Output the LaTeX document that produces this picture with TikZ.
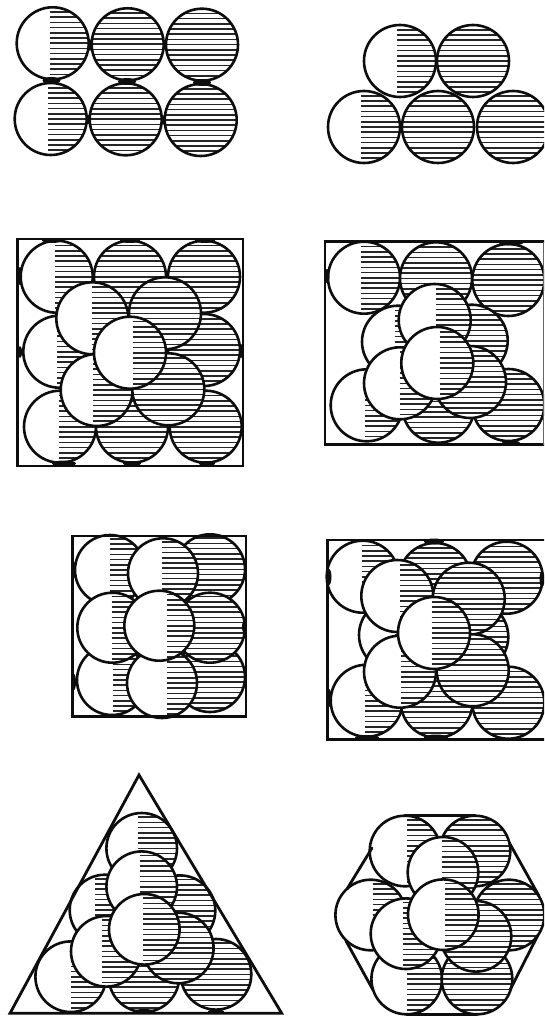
\documentclass[tikz,border=0pt]{standalone}
\tikzset{
  ballline/.style={line width=2.6pt,draw=black!95},
  hatchline/.style={line width=1.6pt,draw=black!85},
  framed/.style={line width=2.8pt,draw=black!95,line cap=round,line join=miter},
  blob/.style={fill=black!95}
}
\newcommand{\ballr}{36}
% \ball{cx}{cy}{x where hatching starts}
\newcommand{\ball}[3]{%
  \fill[white] (#1,#2) circle (\ballr);
  \begin{scope}
    \clip (#1,#2) circle (\ballr);
    \foreach \k in {-7,...,7}{
      \draw[hatchline] (#3,{#2+\k*5.2}) -- ({#1+40},{#2+\k*5.2});
    }
  \end{scope}
  \draw[ballline] (#1,#2) circle (\ballr);
}
\newcommand{\spot}[4]{\fill[blob] (#1,#2) ellipse [x radius=#3, y radius=#4];}
\begin{document}
\begin{tikzpicture}[x=1pt,y=-1pt]
\fill[white] (0,0) rectangle (544,1016);
\clip (0,0) rectangle (544,1016);

% panel 1
\renewcommand{\ballr}{36}
\ball{52.7}{43.3}{50}
\ball{127.7}{44.3}{80}
\ball{202}{44.7}{160}
\ball{50.7}{119}{48}
\ball{125.7}{119.3}{80}
\ball{200.7}{120}{160}
\spot{51.5}{80.5}{9}{3.5}
\spot{127}{81.5}{9}{3.5}
\spot{202}{82.5}{9}{3.5}
\spot{90}{45}{2}{6}
\spot{165}{45}{2}{5}
\spot{88}{119.5}{2}{5}
\spot{163}{120}{2}{5}

% panel 2
\ball{400}{61}{397}
\ball{473}{61}{430}
\ball{364}{127}{361}
\ball{438}{127}{395}
\ball{513}{127}{470}

% panel 3
\renewcommand{\ballr}{36}
\ball{56.7}{276.7}{55}
\ball{130}{276.7}{90}
\ball{204}{276.7}{160}
\ball{59.3}{351.7}{57}
\ball{204}{350}{160}
\ball{60}{426.7}{58.5}
\ball{132}{426.7}{90}
\ball{205.7}{426.7}{160}
\ball{92.3}{318.3}{92}
\ball{165}{313.3}{120}
\ball{96.7}{390}{93}
\ball{168.3}{389.3}{125}
\ball{130}{352.7}{132.5}
\draw[framed] (17.5,239) rectangle (243,466);
\spot{52}{240.5}{10}{2.5}
\spot{130}{240.5}{10}{2.5}
\spot{205}{240.5}{10}{2.5}
\spot{20}{276}{2}{9}
\spot{20}{352}{2}{6}
\spot{64}{463.5}{12}{3}
\spot{132}{463.5}{9}{2.5}
\spot{207}{463.5}{8}{2.5}
\spot{241}{351}{2}{7}

% panel 4
\ball{364}{277.7}{361}
\ball{436}{278.3}{395}
\ball{508.3}{280}{465}
\ball{398}{341.7}{395}
\ball{471.7}{340.7}{430}
\ball{366.7}{405.3}{364.5}
\ball{438.3}{406.7}{395}
\ball{508.3}{405}{465}
\ball{434.7}{320}{436}
\ball{400}{383.3}{399.5}
\ball{470}{382}{430}
\ball{437.3}{363}{439.5}
\draw[framed] (546,241.5) -- (325,241.5) -- (325,444.5) -- (546,444.5);
\draw[line width=1.2pt,draw=black!60] (543.5,241.5) -- (543.5,444.5);
\spot{327}{276}{2.5}{7}
\spot{511}{243}{12}{2.5}
\spot{511}{443}{9}{2.5}

% panel 5
\renewcommand{\ballr}{35}
\ball{110}{570}{110}
\ball{210}{569.3}{185}
\ball{112}{680}{113.3}
\ball{210}{677}{185}
\ball{112.3}{627.7}{111.7}
\ball{210}{627.7}{185}
\ball{163}{573.3}{162.3}
\ball{162}{683}{167.3}
\ball{159.3}{625.7}{166.7}
\draw[framed] (72.3,536) rectangle (246,716.7);
\spot{74}{570}{2}{8}
\spot{74}{682}{2}{8}
\spot{244}{627}{2}{6}

% panel 6
\renewcommand{\ballr}{36}
\ball{362.7}{576.7}{361.7}
\ball{435}{579}{395}
\ball{506.7}{577.7}{465}
\ball{395}{635}{395}
\ball{472.3}{636.7}{430}
\ball{366.7}{700.7}{365}
\ball{436.7}{701.7}{395}
\ball{508.3}{702.7}{465}
\ball{397.3}{596}{400}
\ball{468.7}{598.7}{425}
\ball{400}{671.7}{401}
\ball{472.7}{670.3}{430}
\ball{434}{633}{431.7}
\draw[framed] (327.3,540) rectangle (547,739.3);
\spot{434}{541.5}{10}{3}
\spot{367}{737.5}{12}{2.5}
\spot{436}{737.5}{12}{3}
\spot{329}{577}{2.5}{8}
\spot{329}{698}{2.5}{9}
\spot{542}{579}{2.5}{8}

% panel 7
\renewcommand{\ballr}{35.3}
\ball{141.7}{848.3}{138.3}
\ball{105}{910}{95}
\ball{180}{910.7}{140}
\ball{70.7}{976.7}{70.7}
\ball{144}{976.7}{100}
\ball{216}{974.3}{175}
\ball{141.7}{886.7}{140}
\ball{106.3}{951.3}{101.7}
\ball{178.3}{948}{135}
\ball{144.3}{929.3}{143.3}
\draw[framed] (139,775) -- (281.7,1013.3) -- (10,1013.3) -- cycle;
\spot{144}{1011.5}{11}{2.5}
\spot{216}{1011.5}{8}{2}

% panel 8
\ball{405}{851}{406.7}
\ball{475}{851}{430}
\ball{370.7}{915}{372.7}
\ball{509}{915}{465}
\ball{406.7}{979}{406.7}
\ball{477}{979}{435}
\ball{443}{872.3}{441.7}
\ball{406}{933.7}{403}
\ball{476}{936.3}{435}
\ball{443.3}{914.7}{445}
\draw[framed] (405,815.5) -- (475,815.5);
\draw[framed] (406.7,1014.5) -- (477,1014.5);
\draw[framed] (509.3,842.7) -- (539,896);
\draw[framed] (538,935) -- (510,990);
\draw[framed] (372,848) -- (347,889);
\draw[framed] (346,941) -- (373,990);
\end{tikzpicture}
\end{document}
